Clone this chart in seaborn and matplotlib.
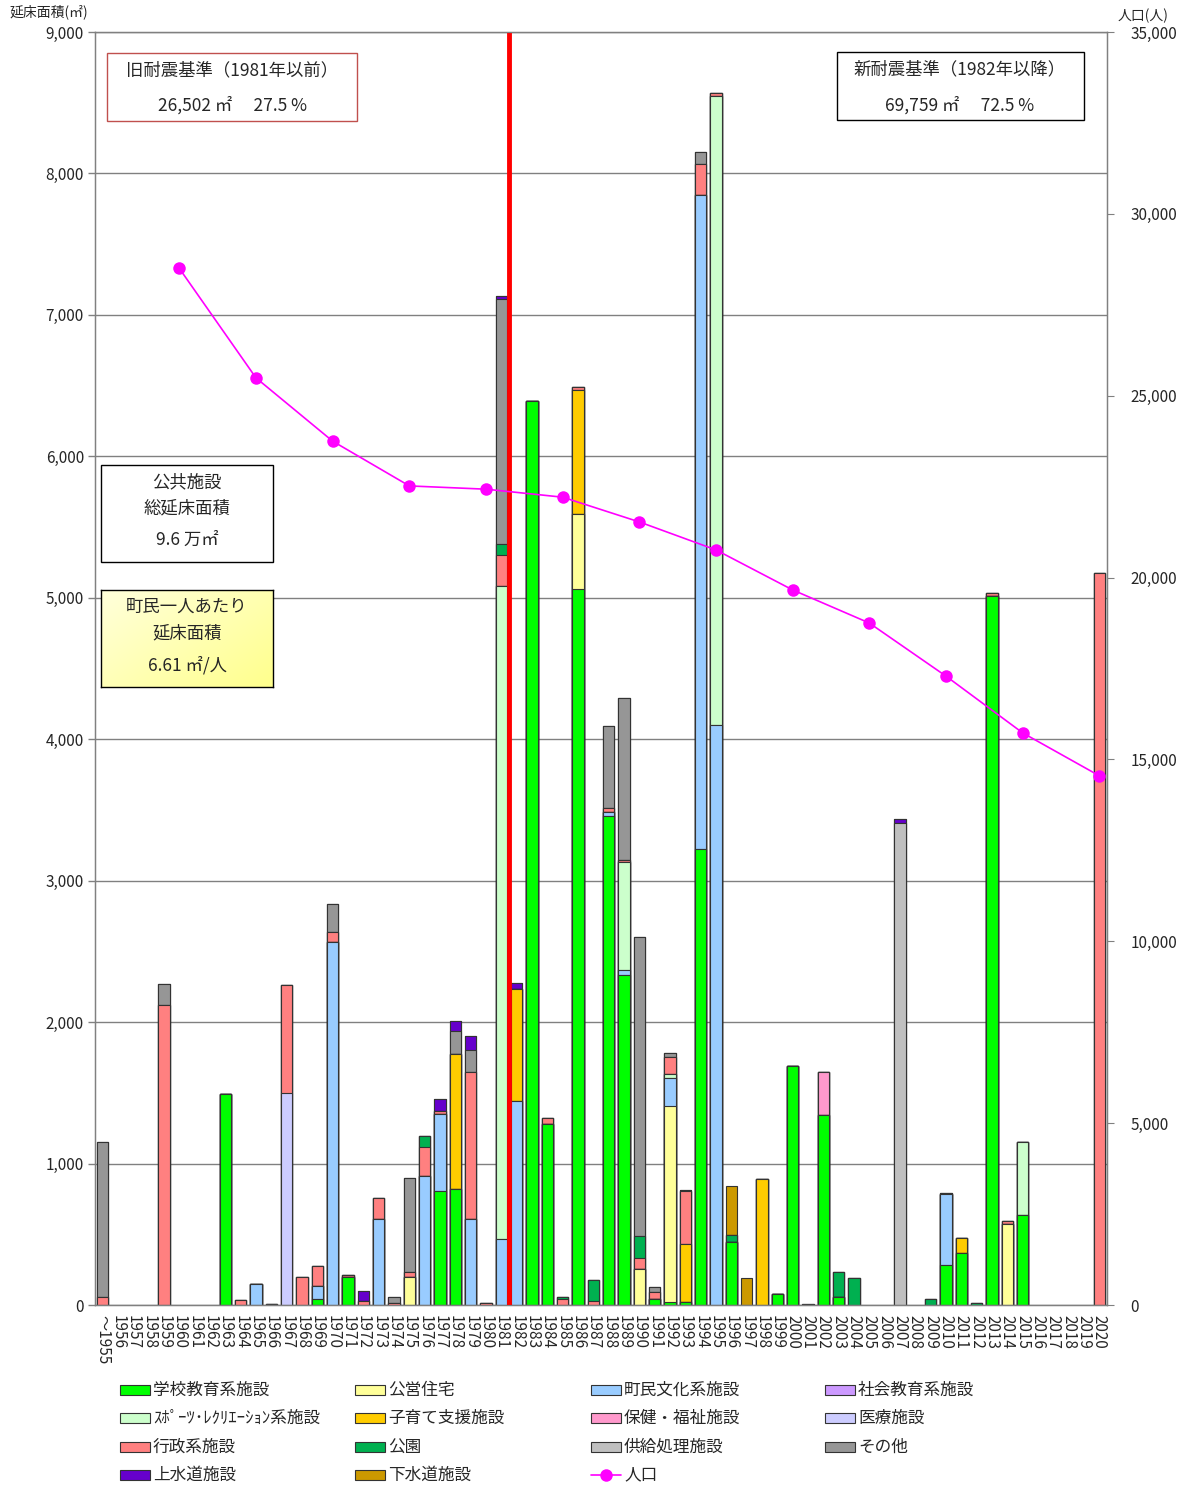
import numpy as np
import pandas as pd
import matplotlib
matplotlib.use("Agg")
import matplotlib.pyplot as plt
from matplotlib.patches import Rectangle
from matplotlib.lines import Line2D
import seaborn as sns

# ---- categories (construction year) ----
year_keys = list(range(1955, 2021))
year_labels = ["～1955"] + [str(y) for y in range(1956, 2021)]

# ---- floor area by facility type (㎡), stacked bottom -> top ----
school = {1963: 1490, 1969: 45, 1971: 195, 1977: 805, 1978: 820, 1983: 6390,
          1984: 1280, 1986: 5060, 1988: 3460, 1989: 2330, 1991: 45, 1992: 20,
          1993: 20, 1994: 3225, 1996: 445, 1999: 75, 2000: 1690, 2002: 1340,
          2003: 55, 2010: 285, 2011: 370, 2013: 5010, 2015: 635}
housing = {1975: 195, 1986: 530, 1990: 255, 1992: 1385, 2014: 575}
culture = {1965: 145, 1969: 90, 1970: 2565, 1973: 605, 1976: 910, 1977: 545,
           1979: 605, 1981: 470, 1982: 1440, 1988: 25, 1989: 35, 1992: 200,
           1994: 4625, 1995: 4100, 2010: 500}
social_edu = {}
sports = {1981: 4610, 1989: 765, 1992: 30, 1995: 4450, 2015: 520}
childcare = {1978: 955, 1982: 795, 1986: 880, 1993: 410, 1998: 890, 2011: 105}
health = {2002: 305}
medical = {1967: 1500}
admin = {1955: 60, 1959: 2120, 1964: 35, 1966: 10, 1967: 760, 1968: 200,
         1969: 140, 1970: 70, 1971: 15, 1972: 30, 1973: 155, 1974: 15,
         1975: 40, 1976: 205, 1977: 20, 1979: 1040, 1980: 12, 1981: 220,
         1984: 40, 1985: 40, 1986: 20, 1987: 25, 1988: 30, 1989: 15,
         1990: 75, 1991: 45, 1992: 120, 1993: 375, 1994: 220, 1995: 20,
         2013: 25, 2014: 20, 2020: 5175}
park = {1976: 80, 1981: 80, 1985: 15, 1987: 155, 1990: 155, 1996: 50,
        2003: 180, 2004: 190, 2009: 40, 2012: 15}
supply = {2007: 3405}
other = {1955: 1095, 1959: 150, 1970: 200, 1974: 40, 1975: 665, 1978: 165,
         1979: 155, 1981: 1730, 1988: 575, 1989: 1145, 1990: 2115, 1991: 40,
         1992: 30, 1994: 80, 2001: 8, 2010: 10}
water = {1972: 70, 1977: 85, 1978: 70, 1979: 105, 1981: 25, 1982: 40, 1993: 6,
         2007: 30}
sewer = {1996: 345, 1997: 190}

series = [
    ("学校教育系施設", school, "#00FF00"),
    ("公営住宅", housing, "#FFFF99"),
    ("町民文化系施設", culture, "#99CCFF"),
    ("社会教育系施設", social_edu, "#CC99FF"),
    ("ｽﾎﾟｰﾂ･ﾚｸﾘｴｰｼｮﾝ系施設", sports, "#CCFFCC"),
    ("子育て支援施設", childcare, "#FFCC00"),
    ("保健・福祉施設", health, "#FF99CC"),
    ("医療施設", medical, "#CCCCFF"),
    ("行政系施設", admin, "#FF8080"),
    ("公園", park, "#00B050"),
    ("供給処理施設", supply, "#C0C0C0"),
    ("その他", other, "#969696"),
    ("上水道施設", water, "#6600CC"),
    ("下水道施設", sewer, "#CC9900"),
]

# ---- population (人) ----
pop_years = [1960, 1965, 1970, 1975, 1980, 1985, 1990, 1995, 2000, 2005, 2010, 2015, 2020]
pop_values = [28500, 25490, 23750, 22520, 22430, 22210, 21530, 20760, 19660, 18750, 17290, 15730, 14550]

W, H = 1184, 1486
sns.set_style("white")
plt.rcParams["font.family"] = ["Noto Sans CJK JP", "DejaVu Sans"]
plt.rcParams["axes.unicode_minus"] = False

fig = plt.figure(figsize=(W / 100, H / 100), dpi=100)
fig.patch.set_facecolor("white")
ax = fig.add_axes([95 / W, 1 - 1305 / H, (1107 - 95) / W, (1305 - 32) / H])

# cumulative tops per layer
cum = np.zeros(len(year_keys))
tops = []
for name, d, color in series:
    vals = np.array([d.get(y, 0) for y in year_keys], dtype=float)
    cum = cum + vals
    tops.append((name, cum.copy(), color))

# draw from the highest layer down so each lower layer covers the part below;
# empty years are left out so no flat bars appear on the baseline
for name, top, color in reversed(tops):
    df = pd.DataFrame({"year": year_labels, "top": np.where(top > 0, top, np.nan)})
    if df["top"].notna().sum() == 0:
        continue
    sns.barplot(data=df, x="year", y="top", order=year_labels, color=color,
                saturation=1, width=0.75, edgecolor="#333333", linewidth=0.8,
                errorbar=None, ax=ax)

ax.set_xlim(-0.5, len(year_labels) - 0.5)
ax.set_ylim(0, 9000)
ax.set_yticks(np.arange(0, 9001, 1000))
ax.set_yticklabels([f"{v:,}" for v in range(0, 9001, 1000)], fontsize=11)
ax.set_xticks(range(len(year_labels)))
ax.set_xticklabels(year_labels, rotation=-90, fontsize=11, va="top", ha="center")
ax.set_xlabel("")
ax.set_ylabel("")
ax.set_axisbelow(True)
ax.yaxis.grid(True, color="#808080", linewidth=1)
ax.xaxis.grid(False)
for s in ax.spines.values():
    s.set_color("#808080")
    s.set_linewidth(1)
ax.tick_params(axis="both", which="both", direction="out", length=4,
               color="#808080", width=1, pad=3)
ax.tick_params(axis="y", length=5)

# boundary between old and new seismic standards
ax.axvline(26.5, color="#FF0000", linewidth=3.5, zorder=5)

# population on the secondary axis
ax2 = ax.twinx()
pop_idx = [y - 1955 for y in pop_years]
sns.lineplot(x=pop_idx, y=pop_values, ax=ax2, color="#FF00FF", marker="o",
             markersize=9, markeredgewidth=0, linewidth=1.2)
ax2.set_ylim(0, 35000)
ax2.set_yticks(np.arange(0, 35001, 5000))
ax2.set_yticklabels([f"{v:,}" for v in range(0, 35001, 5000)], fontsize=11)
ax2.grid(False)
ax2.set_ylabel("")
for s in ax2.spines.values():
    s.set_color("#808080")
ax2.tick_params(axis="y", direction="out", length=5, color="#808080", pad=12)
ax.set_xlim(-0.5, len(year_labels) - 0.5)

# axis titles
fig.text(10 / W, 1 - 12 / H, "延床面積(㎡)", fontsize=10, va="center", ha="left")
fig.text(1168 / W, 1 - 16 / H, "人口(人)", fontsize=10, va="center", ha="right")


def px_box(x1, y1, x2, y2, edge, face="white", lw=1.0):
    fig.add_artist(Rectangle((x1 / W, 1 - y2 / H), (x2 - x1) / W, (y2 - y1) / H,
                             transform=fig.transFigure, facecolor=face,
                             edgecolor=edge, linewidth=lw, zorder=10))


def px_text(x, y, s, size=12.5):
    fig.text(x / W, 1 - y / H, s, fontsize=size, ha="center", va="center", zorder=11)


# old / new seismic standard summaries
px_box(107, 53, 357, 121, "#C0504D")
px_text(232, 70, "旧耐震基準（1981年以前）")
px_text(232, 105, "26,502 ㎡　 27.5 %")
px_box(837, 52, 1084, 120, "#000000")
px_text(960, 69, "新耐震基準（1982年以降）")
px_text(960, 105, "69,759 ㎡　 72.5 %")

# total floor area
px_box(101, 465, 273, 562, "#000000")
px_text(187, 482, "公共施設")
px_text(187, 508, "総延床面積")
px_text(187, 540, "9.6 万㎡")

# floor area per resident (yellow gradient panel)
gax = fig.add_axes([101 / W, 1 - 687 / H, 172 / W, 97 / H], zorder=9)
gx, gy = np.meshgrid(np.linspace(0, 1, 200), np.linspace(0, 1, 100))
t = np.clip(0.55 * gx + 0.45 * gy, 0, 1)
c0 = np.array([1.0, 1.0, 0.86])
c1 = np.array([1.0, 1.0, 0.55])
img = c0[None, None, :] * (1 - t[..., None]) + c1[None, None, :] * t[..., None]
gax.imshow(img, aspect="auto", extent=[0, 1, 0, 1], origin="upper")
gax.set_xticks([])
gax.set_yticks([])
for s in gax.spines.values():
    s.set_color("#000000")
    s.set_linewidth(1)
px_text(187, 607, "町民一人あたり")
px_text(187, 633, "延床面積")
px_text(187, 665, "6.61 ㎡/人")

# legend laid out in four fixed columns
col_x = [120, 355, 591, 825]
row_y = [1390, 1418, 1447, 1475]
entries = [(name, color) for name, _, color in series] + [("人口", None)]
for i, (name, color) in enumerate(entries):
    r, c = divmod(i, 4)
    x0, yc = col_x[c], row_y[r]
    if color is None:
        fig.add_artist(Line2D([x0 / W, (x0 + 30) / W], [1 - yc / H, 1 - yc / H],
                              transform=fig.transFigure, color="#FF00FF",
                              linewidth=1.2, marker=None))
        fig.add_artist(Line2D([(x0 + 15) / W], [1 - yc / H],
                              transform=fig.transFigure, color="#FF00FF",
                              marker="o", markersize=9, markeredgewidth=0))
    else:
        fig.add_artist(Rectangle((x0 / W, 1 - (yc + 5) / H), 30 / W, 10 / H,
                                 transform=fig.transFigure, facecolor=color,
                                 edgecolor="#333333", linewidth=0.8))
    fig.text((x0 + 33) / W, 1 - yc / H, name, fontsize=12, va="center", ha="left")

fig.savefig("out.png", dpi=100)
